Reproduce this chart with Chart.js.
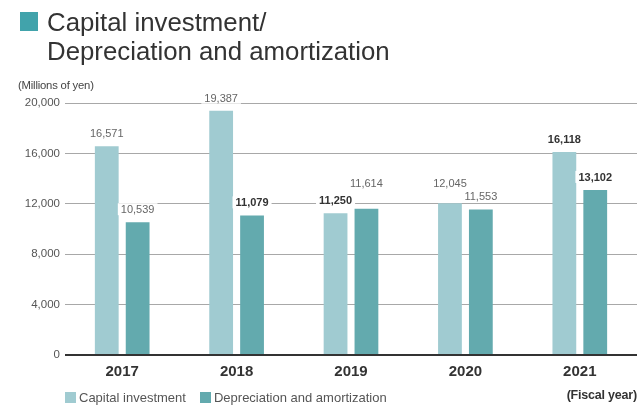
<!DOCTYPE html>
<html>
<head>
<meta charset="utf-8">
<script src="https://cdn.jsdelivr.net/npm/chart.js@4.4.1/dist/chart.umd.min.js"></script>
<style>
  html, body { margin: 0; padding: 0; background: #fff; }
  body { width: 637px; height: 407px; position: relative; overflow: hidden;
         font-family: "Liberation Sans", Arial, sans-serif; }
  #chart { position: absolute; left: 0; top: 0; z-index: 0; }
  .txt { position: absolute; z-index: 1; }
  .title-mark { position: absolute; left: 20px; top: 12px; width: 18px; height: 19px; background: #41a3ab; }
  .title { left: 47px; top: 8px; font-size: 25.8px; line-height: 29px; color: #333; }
  .unit { left: 18px; top: 79px; font-size: 11.3px; color: #444; letter-spacing: -0.2px; }
  .legend { top: 390px; font-size: 13px; color: #555; white-space: nowrap; }
  .legend i { display: inline-block; width: 11px; height: 11px; vertical-align: -1px; margin-right: 3px; }
  .fiscal { right: 0px; top: 388px; font-size: 12.5px; font-weight: bold; color: #333; letter-spacing: -0.2px; }
</style>
</head>
<body>
<canvas id="chart" width="637" height="407"></canvas>
<div class="title-mark"></div>
<div class="txt title">Capital investment/<br>Depreciation and amortization</div>
<div class="txt unit">(Millions of yen)</div>
<div class="txt legend" id="legend" style="left:65px"></div>
<div class="txt fiscal">(Fiscal year)</div>

<script>
// ---------- Data ----------
const years = ["2017", "2018", "2019", "2020", "2021"];
const capitalInvestment = [16571, 19387, 11250, 12045, 16118];
const depreciation = [10539, 11079, 11614, 11553, 13102];
const yTicks = [0, 4000, 8000, 12000, 16000, 20000];

const seriesNames = ["Capital investment", "Depreciation and amortization"];
const seriesColors = ["#a0cbd1", "#63aaae"];

// value labels printed in bold, per dataset index
const boldLabels = [[2, 4], [1, 4]];

// ---------- HTML legend ----------
const legendEl = document.getElementById("legend");
legendEl.innerHTML = seriesNames
  .map((n, i) => `<span style="margin-right:${i === 0 ? 14 : 0}px"><i style="background:${seriesColors[i]}"></i>${n}</span>`)
  .join("");

// ---------- Value labels ----------
// Plain labels that would sit on a gridline get lifted above it;
// bold ones stay put and knock the line out with a white box.
const valueLabels = {
  id: "valueLabels",
  afterDatasetsDraw(chart) {
    const ctx = chart.ctx;
    const yScale = chart.scales.y;
    const gridY = yTicks.map((v) => yScale.getPixelForValue(v));
    const items = [];

    chart.data.datasets.forEach((ds, di) => {
      const meta = chart.getDatasetMeta(di);
      meta.data.forEach((bar, i) => {
        const bold = boldLabels[di].includes(i);
        let y = bar.y - 9;
        if (!bold) {
          const near = gridY.find((g) => Math.abs(g - bar.y) < 5);
          if (near !== undefined) y = near - 17;
        }
        items.push({ x: bar.x, y, bold, text: ds.data[i].toLocaleString("en-US") });
      });
    });

    ctx.save();
    ctx.textAlign = "center";
    ctx.textBaseline = "alphabetic";
    const fontFor = (b) => `${b ? "bold " : ""}11px "Liberation Sans", Arial, sans-serif`;

    // boxes first so none of them covers a neighbouring label
    items.forEach((it) => {
      ctx.font = fontFor(it.bold);
      const w = ctx.measureText(it.text).width;
      ctx.fillStyle = "#fff";
      ctx.fillRect(it.x - w / 2 - 3, it.y - 10, w + 6, 12);
    });
    items.forEach((it) => {
      ctx.font = fontFor(it.bold);
      ctx.fillStyle = it.bold ? "#333" : "#666";
      ctx.fillText(it.text, it.x, it.y);
    });
    ctx.restore();
  },
};

// ---------- Chart ----------
const ctx = document.getElementById("chart").getContext("2d");
new Chart(ctx, {
  type: "bar",
  data: {
    labels: years,
    datasets: [
      { label: seriesNames[0], data: capitalInvestment, backgroundColor: seriesColors[0] },
      { label: seriesNames[1], data: depreciation, backgroundColor: seriesColors[1] },
    ],
  },
  options: {
    responsive: false,
    animation: false,
    layout: { padding: { top: 103, left: 0, right: 0, bottom: 0 } },
    datasets: { bar: { categoryPercentage: 0.54, barPercentage: 0.77 } },
    plugins: {
      legend: { display: false },
      tooltip: { enabled: false },
    },
    scales: {
      x: {
        grid: { display: false },
        border: { display: false },
        ticks: {
          padding: 0,
          color: "#333",
          font: { family: '"Liberation Sans", Arial, sans-serif', size: 15, weight: "bold" },
        },
        afterFit: (s) => { s.height = 52; },
      },
      y: {
        min: 0,
        max: 20000,
        afterBuildTicks: (s) => { s.ticks = yTicks.map((v) => ({ value: v })); },
        grid: {
          drawTicks: false,
          color: (c) => (c.tick && c.tick.value === 0 ? "#333" : "#a8a8a8"),
          lineWidth: (c) => (c.tick && c.tick.value === 0 ? 2 : 1),
        },
        border: { display: false },
        ticks: {
          padding: 5,
          color: "#555",
          font: { family: '"Liberation Sans", Arial, sans-serif', size: 11.5 },
          callback: (v) => v.toLocaleString("en-US"),
        },
        afterFit: (s) => { s.width = 65; },
      },
    },
  },
  plugins: [valueLabels],
});
</script>
</body>
</html>
